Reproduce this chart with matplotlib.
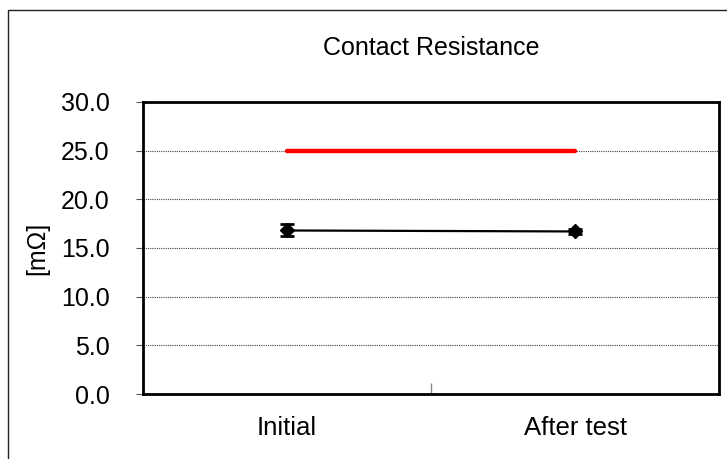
import numpy as np
import matplotlib.pyplot as plt
from matplotlib.patches import Rectangle

plt.rcParams['font.family'] = ['Liberation Sans', 'DejaVu Sans']

categories = ["Initial", "After test"]
mean_values = [16.8, 16.7]
err_low = [0.6, 0.3]
err_high = [0.7, 0.3]
limit_values = [25.0, 25.0]
y_ticks = [0.0, 5.0, 10.0, 15.0, 20.0, 25.0, 30.0]

fig = plt.figure(figsize=(7.27, 4.59), dpi=100)
ax = fig.add_axes([0.1967, 0.1416, 0.7923, 0.6362])

# outer chart frame (runs off the right and bottom of the picture)
fig.add_artist(Rectangle((8 / 727, -0.2), 1.2, 1.2 - 10 / 459,
                         transform=fig.transFigure, fill=False,
                         edgecolor='#222222', linewidth=1.0))

x = np.arange(len(categories))

ax.plot(x, limit_values, color='#ff0000', linewidth=3.2, solid_capstyle='round', zorder=3)
ax.errorbar(x, mean_values, yerr=[err_low, err_high], color='black',
            linewidth=1.6, marker='D', markersize=7, capsize=5, capthick=2,
            elinewidth=1.6, zorder=4)

ax.set_xlim(-0.5, 1.5)
ax.set_ylim(0, 30)
ax.set_yticks(y_ticks)
ax.set_yticklabels(["%.1f" % v for v in y_ticks], fontsize=18)
ax.set_xticks(x)
ax.set_xticklabels(categories, fontsize=18.5)
ax.tick_params(axis='x', length=0, pad=16)
ax.tick_params(axis='y', length=5, width=0.8, color='#555555', pad=19)

# category separator tick at the middle of the x axis
ax.set_xticks([0.5], minor=True)
ax.tick_params(axis='x', which='minor', direction='in', length=8, width=1, color='#888888')

ax.yaxis.grid(True, linestyle=(0, (1, 1)), color='#444444', linewidth=0.8)
ax.set_axisbelow(True)

for s in ax.spines.values():
    s.set_linewidth(2)
    s.set_color('black')

ax.set_ylabel("[m\u03a9]", fontsize=18)
ax.yaxis.set_label_coords(-0.162, 0.5)
fig.text(431 / 727, 1 - 48 / 459, "Contact Resistance", fontsize=18,
         ha='center', va='center')

fig.savefig("out.png", dpi=100)
